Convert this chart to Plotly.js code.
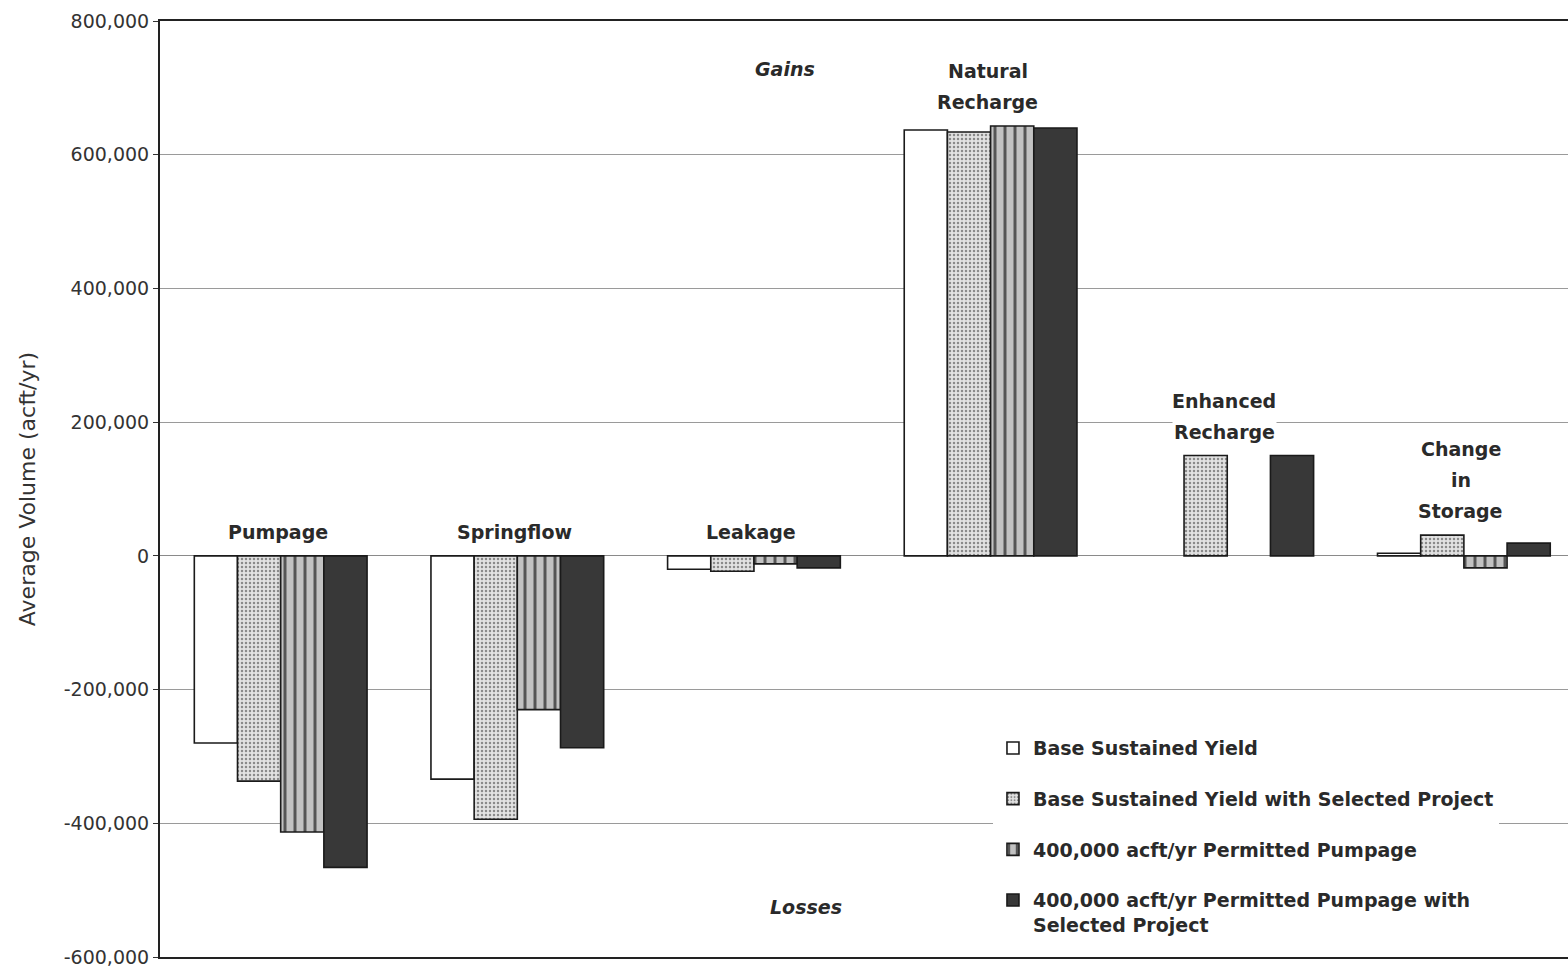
<!DOCTYPE html>
<html><head><meta charset="utf-8">
<script src="https://cdn.plot.ly/plotly-3.0.1.min.js"></script>
<style>html,body{margin:0;padding:0;background:#fff;overflow:hidden}</style>
</head><body><div id="chart" style="width:1568px;height:969px"></div>
<script>
// ---- data ----
const categories = ["Pumpage", "Springflow", "Leakage", "Natural Recharge", "Enhanced Recharge", "Change in Storage"];
const categoryLabelLines = [["Pumpage"], ["Springflow"], ["Leakage"], ["Natural", "Recharge"], ["Enhanced", "Recharge"], ["Change", "in", "Storage"]];
const seriesNames = [
  "Base Sustained Yield",
  "Base Sustained Yield with Selected Project",
  "400,000 acft/yr Permitted Pumpage",
  "400,000 acft/yr Permitted Pumpage with<br>Selected Project"
];
const baseSustainedYield = [-280000, -334000, -20000, 637000, null, 4000];
const baseWithProject = [-337000, -394000, -23000, 634000, 150000, 31000];
const permittedPumpage = [-413000, -230000, -12000, 643000, null, -18000];
const permittedWithProject = [-466000, -287000, -18000, 640000, 150000, 19000];
const yTickValues = [800000, 600000, 400000, 200000, 0, -200000, -400000, -600000];
const yTickLabels = ["800,000", "600,000", "400,000", "200,000", "0", "-200,000", "-400,000", "-600,000"];
const regionLabels = ["Gains", "Losses"];

// ---- styles ----
const seriesValues = [baseSustainedYield, baseWithProject, permittedPumpage, permittedWithProject];
const seriesMarkers = [
  {color: "#ffffff", line: {color: "#1a1a1a", width: 1.6}},
  {color: "#e2e2e2", line: {color: "#1a1a1a", width: 1.6},
   pattern: {shape: ".", size: 4, solidity: 0.3, fgcolor: "#8a8a8a", bgcolor: "#e2e2e2", fillmode: "replace"}},
  {color: "#bdbdbd", line: {color: "#1a1a1a", width: 1.6},
   pattern: {shape: "|", size: 10, solidity: 0.3, fgcolor: "#555555", bgcolor: "#c2c2c2", fillmode: "replace"}},
  {color: "#383838", line: {color: "#1a1a1a", width: 1.6}}
];

const traces = seriesValues.map((vals, i) => ({
  type: "bar",
  name: seriesNames[i],
  x: categories,
  y: vals,
  marker: seriesMarkers[i],
  legendgroup: "g" + i,
  hoverinfo: "x+y+name"
}));

const font = "DejaVu Sans, Arial, sans-serif";
const annotations = [];
categoryLabelLines.forEach((lines, ci) => {
  const top = Math.max(0, ...seriesValues.map(s => s[ci] == null ? 0 : s[ci]));
  lines.forEach((ln, li) => {
    annotations.push({
      x: categories[ci], y: top, xref: "x", yref: "y",
      text: ln, showarrow: false, yanchor: "middle", xshift: -3,
      yshift: 24 + 31 * (lines.length - 1 - li),
      bgcolor: "#ffffff", borderpad: 1,
      font: {family: font, size: 19, color: "#2a2a2a", weight: 700}
    });
  });
});
annotations.push({x: 2.13, y: 728000, xref: "x", yref: "y", text: "<i>" + regionLabels[0] + "</i>",
  showarrow: false, font: {family: font, size: 19, color: "#2a2a2a", weight: 700}});
annotations.push({x: 2.22, y: -525000, xref: "x", yref: "y", text: "<i>" + regionLabels[1] + "</i>",
  showarrow: false, font: {family: font, size: 19, color: "#2a2a2a", weight: 700}});

const layout = {
  width: 1568, height: 969,
  margin: {l: 160, r: 0, t: 21, b: 12},
  paper_bgcolor: "#ffffff", plot_bgcolor: "#ffffff",
  barmode: "group", bargap: 0.27, bargroupgap: 0,
  showlegend: true,
  legend: {
    x: 0.5916, y: 0.2435, xanchor: "left", yanchor: "top",
    bgcolor: "#ffffff", borderwidth: 0,
    tracegroupgap: 23, valign: "top",
    font: {family: font, size: 19, color: "#2a2a2a", weight: 700}
  },
  xaxis: {
    type: "category", range: [-0.51, 5.44],
    showticklabels: false, ticks: "", showgrid: false,
    showline: true, mirror: true, linecolor: "#222222", linewidth: 2,
    zeroline: false, fixedrange: true
  },
  yaxis: {
    range: [-600000, 800000], tickmode: "array", tickvals: yTickValues, ticktext: yTickLabels,
    ticks: "outside", ticklen: 5, tickcolor: "#333333", ticklabeloverflow: "allow",
    tickfont: {family: font, size: 19, color: "#333333"},
    showgrid: true, gridcolor: "#9a9a9a", gridwidth: 1,
    zeroline: true, zerolinecolor: "#8a8a8a", zerolinewidth: 1.2,
    showline: true, linecolor: "#222222", linewidth: 2, mirror: false,
    title: {text: "Average Volume (acft/yr)", standoff: 22,
      font: {family: font, size: 22, color: "#333333"}},
    automargin: false, fixedrange: true
  },
  annotations: annotations
};

Plotly.newPlot("chart", traces, layout, {displayModeBar: false, responsive: false});
</script>
</body></html>
